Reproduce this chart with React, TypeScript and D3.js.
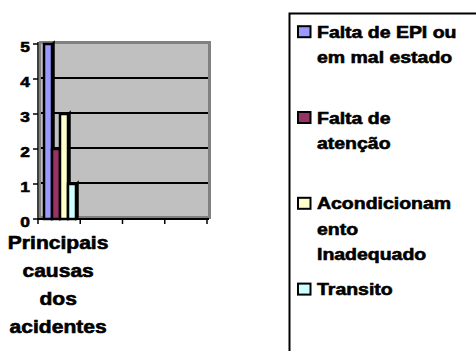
import React, { useEffect, useRef } from "react";
import * as d3 from "d3";

// chart data
const categories = ["Principais causas dos acidentes", "", "", ""];
const categoryLines = ["Principais", "causas", "dos", "acidentes"];
const seriesNames = [
  "Falta de EPI ou em mal estado",
  "Falta de atenção",
  "Acondicionamento Inadequado",
  "Transito",
];
const legendLines = [
  ["Falta de EPI ou", "em mal estado"],
  ["Falta de", "atenção"],
  ["Acondicionam", "ento", "Inadequado"],
  ["Transito"],
];
const seriesValues = [5, 2, 3, 1];
const seriesColors = ["#9999ff", "#993366", "#ffffcc", "#ccffff"];
const yTicks = [0, 1, 2, 3, 4, 5];

const FONT = "'Liberation Sans', Arial, sans-serif";

const App = () => {
  const svgRef = useRef<SVGSVGElement>(null);

  useEffect(() => {
    const svg = d3.select(svgRef.current);
    svg.selectAll("*").remove();

    const x0 = 38;
    const x1 = 207;
    const yTop = 44;
    const yBot = 219;

    const yScale = d3.scaleLinear().domain([0, 5]).range([yBot, yTop]);
    const xScale = d3
      .scaleBand()
      .domain(categories.map((c, i) => i + ":" + c))
      .range([x0, x1]);
    const first = xScale.domain()[0];
    const seriesScale = d3
      .scaleBand()
      .domain(seriesNames)
      .range([xScale(first)! + 6, xScale(first)! + 38]);

    // bold text helper (stroke thickens the glyphs a little)
    const boldText = (sel: any, size: number) =>
      sel
        .attr("font-family", FONT)
        .style("font-weight", 700)
        .attr("font-size", size)
        .attr("fill", "#000")
        .attr("stroke", "#000")
        .attr("stroke-width", 0.6);

    // back wall with darker 3D edge
    svg
      .append("rect")
      .attr("x", x0 + 1)
      .attr("y", yTop - 3)
      .attr("width", x1 - x0 + 3)
      .attr("height", yBot - yTop + 3)
      .attr("fill", "#808080");
    svg
      .append("rect")
      .attr("x", x0 + 3)
      .attr("y", yTop)
      .attr("width", x1 - x0 - 2)
      .attr("height", yBot - yTop - 3)
      .attr("fill", "#c0c0c0");

    // gridlines
    svg
      .selectAll(".grid")
      .data(yTicks.filter((t) => t > 0 && t < 5))
      .enter()
      .append("line")
      .attr("x1", x0 + 3)
      .attr("x2", x1 + 1)
      .attr("y1", (d) => yScale(d) - 1)
      .attr("y2", (d) => yScale(d) - 1)
      .attr("stroke", "#000")
      .attr("stroke-width", 2);

    // bars with a small side face
    const depth = 2;
    const bars = svg
      .selectAll(".bar")
      .data(seriesValues)
      .enter()
      .append("g");
    bars
      .append("polygon")
      .attr("points", (d, i) => {
        const bx = seriesScale(seriesNames[i])! + seriesScale.bandwidth();
        return [
          [bx, yScale(d)],
          [bx + depth, yScale(d) - depth],
          [bx + depth, yBot - depth],
          [bx, yBot],
        ].join(" ");
      })
      .attr("fill", "#000")
      .attr("stroke", "#000")
      .attr("stroke-width", 1.5);
    bars
      .append("rect")
      .attr("x", (d, i) => seriesScale(seriesNames[i])!)
      .attr("y", (d) => yScale(d))
      .attr("width", seriesScale.bandwidth())
      .attr("height", (d) => yBot - yScale(d))
      .attr("fill", (d, i) => seriesColors[i])
      .attr("stroke", "#000")
      .attr("stroke-width", 2.5);

    // axes
    svg
      .append("line")
      .attr("x1", x0)
      .attr("x2", x0)
      .attr("y1", yTop - 2)
      .attr("y2", yBot + 1)
      .attr("stroke", "#000")
      .attr("stroke-width", 1.5);
    svg
      .append("line")
      .attr("x1", x0)
      .attr("x2", x1 + 2)
      .attr("y1", yBot)
      .attr("y2", yBot)
      .attr("stroke", "#000")
      .attr("stroke-width", 2);

    svg
      .selectAll(".ytick")
      .data(yTicks)
      .enter()
      .append("line")
      .attr("x1", x0 - 5)
      .attr("x2", x0)
      .attr("y1", (d) => yScale(d))
      .attr("y2", (d) => yScale(d))
      .attr("stroke", "#000")
      .attr("stroke-width", 1.5);

    svg
      .selectAll(".ylabel")
      .data(yTicks)
      .enter()
      .append("text")
      .attr("transform", (d) => `translate(${x0 - 8},${yScale(d) + 7.5}) scale(1.12,1)`)
      .attr("text-anchor", "end")
      .call(boldText, 15.5)
      .text((d) => d);

    const xTicks = [...xScale.domain().map((d) => xScale(d)!), x1];
    svg
      .selectAll(".xtick")
      .data(xTicks)
      .enter()
      .append("line")
      .attr("x1", (d) => d)
      .attr("x2", (d) => d)
      .attr("y1", yBot)
      .attr("y2", yBot + 5)
      .attr("stroke", "#000")
      .attr("stroke-width", 1.5);

    // category label
    const cx = xScale(first)! + xScale.bandwidth() / 2 - 1;
    svg
      .selectAll(".xlabel")
      .data(categoryLines)
      .enter()
      .append("text")
      .attr("transform", (d, i) => `translate(${cx},${249 + i * 28}) scale(1.17,1)`)
      .attr("text-anchor", "middle")
      .call(boldText, 18)
      .text((d) => d);

    // legend
    const legend = svg.append("g");
    legend
      .append("rect")
      .attr("x", 289.5)
      .attr("y", 13.5)
      .attr("width", 220)
      .attr("height", 400)
      .attr("fill", "#fff")
      .attr("stroke", "#000")
      .attr("stroke-width", 2);

    const items = legend
      .selectAll(".item")
      .data(seriesNames)
      .enter()
      .append("g")
      .attr("transform", (d, i) => `translate(0,${37.7 + i * 85.8})`);
    items
      .append("rect")
      .attr("x", 298)
      .attr("y", -11.5)
      .attr("width", 12.5)
      .attr("height", 11)
      .attr("fill", (d, i) => seriesColors[i])
      .attr("stroke", "#000")
      .attr("stroke-width", 2);
    items.each(function (d, i) {
      d3.select(this)
        .selectAll("text")
        .data(legendLines[i])
        .enter()
        .append("text")
        .attr("transform", (t, j) => `translate(317,${j * 25.5}) scale(1.18,1)`)
        .call(boldText, 16.5)
        .text((t) => t);
    });
  }, []);

  return (
    <svg
      ref={svgRef}
      width={476}
      height={351}
      style={{ position: "absolute", left: 0, top: 0, background: "#fff" }}
    />
  );
};

export default App;
